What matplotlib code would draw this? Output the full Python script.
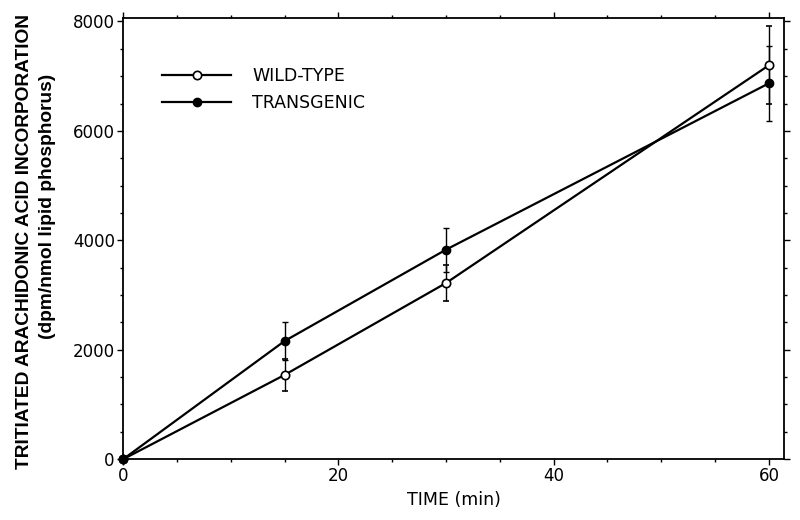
import numpy as np
import matplotlib.pyplot as plt
from matplotlib.lines import Line2D
from matplotlib.ticker import MultipleLocator

# Data
time = [0, 15, 30, 60]
wild_type = [0, 1540, 3220, 7200]
wild_type_err = [0, 290, 330, 710]
transgenic = [0, 2160, 3830, 6870]
transgenic_err = [0, 350, 400, 680]

plt.rcParams['font.family'] = ['DejaVu Sans']

fig = plt.figure(figsize=(8, 5.2), dpi=100)
ax = fig.add_axes([0.154, 0.117, 0.826, 0.848])

# Wild-type: open circles
ax.errorbar(time, wild_type, yerr=wild_type_err, color='black', lw=1.6,
            marker='o', ms=6, mfc='white', mec='black', mew=1.2,
            elinewidth=1, capsize=2.5, capthick=1, clip_on=False, zorder=3)
# Transgenic: filled circles
ax.errorbar(time, transgenic, yerr=transgenic_err, color='black', lw=1.6,
            marker='o', ms=6, mfc='black', mec='black',
            elinewidth=1, capsize=2.5, capthick=1, clip_on=False, zorder=3)

ax.set_xlim(0, 61.4)
ax.set_ylim(0, 8060)
ax.xaxis.set_major_locator(MultipleLocator(20))
ax.xaxis.set_minor_locator(MultipleLocator(5))
ax.yaxis.set_major_locator(MultipleLocator(2000))
ax.yaxis.set_minor_locator(MultipleLocator(500))

ax.tick_params(which='both', direction='out', top=True, right=True, width=1)
ax.tick_params(which='major', length=4, labelsize=12, pad=2)
ax.tick_params(which='minor', length=2.5)
for s in ax.spines.values():
    s.set_linewidth(1.3)

ax.set_xlabel('TIME (min)', fontsize=12.5, labelpad=4)

# y label in two lines, second line sits a bit higher as in the original
ylab_font = dict(fontsize=13.8, fontweight='bold', family=['Liberation Sans', 'DejaVu Sans'],
                 rotation=90, ha='center', va='center')
fig.text(0.031, 0.536, 'TRITIATED ARACHIDONIC ACID INCORPORATION', **ylab_font)
fig.text(0.059, 0.604, '(dpm/nmol lipid phosphorus)', **ylab_font)

# legend shows line + marker only, no error bars
handles = [
    Line2D([], [], color='black', lw=1.6, marker='o', ms=6, mfc='white', mec='black', mew=1.2),
    Line2D([], [], color='black', lw=1.6, marker='o', ms=6, mfc='black', mec='black'),
]
ax.legend(handles, ['WILD-TYPE', 'TRANSGENIC'], loc='upper left',
          bbox_to_anchor=(0.035, 0.925), frameon=False, fontsize=12.5,
          handlelength=4.0, handletextpad=1.2, labelspacing=0.55)

plt.savefig('out.png', dpi=100)
plt.close()
